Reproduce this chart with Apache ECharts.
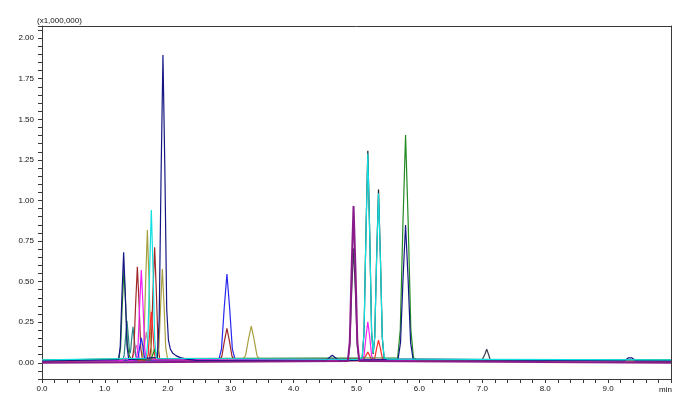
<!DOCTYPE html>
<html>
<head>
<meta charset="utf-8">
<script src="https://cdn.jsdelivr.net/npm/echarts@6/dist/echarts.min.js"></script>
<style>html,body{margin:0;padding:0;background:#fff}#c{width:690px;height:406px}</style>
</head>
<body>
<div id="c"></div>
<script>
// ---- axis ticks (minutes / x1,000,000 counts) ----
const xMin = 0, xMax = 10, xStep = 0.2;
const yMin = -0.1, yMax = 2.075, yStep = 0.05;
const yUnitLabel = '(x1,000,000)';
const xUnitLabel = 'min';

// ---- chromatogram traces: [time (min), intensity (x1,000,000)] ----
const navy = [[0,0.012],[1.217,0.019],[1.244,0.102],[1.271,0.418],[1.298,0.681],[1.325,0.418],[1.352,0.102],[1.379,0.019],
  [1.833,0.033],[1.863,0.266],[1.893,1.156],[1.923,1.897],[1.953,1.20],[1.983,0.33],[2.01,0.14],[2.04,0.085],[2.08,0.058],[2.13,0.044],[2.2,0.032],[2.3,0.022],[2.45,0.015],
  [4.48,0.012],[4.525,0.017],[4.57,0.033],[4.615,0.046],[4.66,0.033],[4.705,0.017],[4.75,0.012],
  [5.66,0.021],[5.70,0.125],[5.74,0.520],[5.78,0.849],[5.82,0.520],[5.86,0.125],[5.90,0.021],
  [9.26,0.012],[9.29,0.020],[9.32,0.030],[9.35,0.033],[9.38,0.030],[9.41,0.020],[9.44,0.012],[10,0.012]];
const green = [[0,0.016],[1.222,0.022],[1.249,0.092],[1.276,0.356],[1.303,0.576],[1.33,0.356],[1.357,0.11],[1.39,0.04],[1.43,0.022],
  [1.725,0.017],[1.747,0.025],[1.769,0.057],[1.791,0.084],[1.813,0.057],[1.835,0.025],[1.857,0.017],
  [5.654,0.031],[5.696,0.203],[5.738,0.858],[5.78,1.404],[5.822,0.858],[5.864,0.203],[5.906,0.031],[5.96,0.017],[10,0.016]];
const teal = [[0,0.015],[1.285,0.018],[1.307,0.048],[1.329,0.163],[1.351,0.259],[1.373,0.163],[1.39,0.074],[1.40,0.058],
  [1.41,0.076],[1.424,0.141],[1.446,0.222],[1.468,0.141],[1.49,0.043],[1.512,0.017],[10,0.015]];
const brown = [[0,0.014],[1.435,0.020],[1.462,0.092],[1.489,0.365],[1.516,0.592],[1.543,0.365],[1.57,0.092],[1.597,0.020],
  [1.71,0.022],[1.737,0.108],[1.764,0.437],[1.791,0.711],[1.818,0.437],[1.845,0.108],[1.872,0.022],
  [2.82,0.016],[2.86,0.041],[2.90,0.134],[2.94,0.212],[2.98,0.134],[3.02,0.041],[3.06,0.016],[10,0.014]];
const magenta = [[0,0.013],[1.28,0.013],[1.31,0.024],[1.33,0.03],[1.35,0.024],[1.38,0.013],
  [1.498,0.019],[1.525,0.088],[1.552,0.352],[1.579,0.571],[1.606,0.352],[1.633,0.088],[1.66,0.019],
  [5.09,0.016],[5.12,0.045],[5.15,0.159],[5.18,0.253],[5.21,0.159],[5.24,0.045],[5.27,0.016],[10,0.013]];
const pink = [[0,0.015],[1.425,0.016],[1.45,0.028],[1.475,0.072],[1.50,0.109],[1.525,0.072],[1.55,0.028],[1.575,0.016],[10,0.015]];
const rosy = [[0,0.015],[1.584,0.017],[1.609,0.039],[1.634,0.121],[1.659,0.19],[1.684,0.121],[1.709,0.039],[1.734,0.017],[10,0.015]];
const olive = [[0,0.017],[1.594,0.026],[1.621,0.125],[1.648,0.503],[1.675,0.818],[1.702,0.503],[1.729,0.125],[1.756,0.026],
  [1.832,0.023],[1.859,0.093],[1.886,0.358],[1.913,0.578],[1.94,0.358],[1.967,0.093],[1.994,0.028],[2.03,0.02],
  [3.192,0.019],[3.237,0.045],[3.282,0.144],[3.327,0.226],[3.372,0.144],[3.417,0.045],[3.462,0.019],[10,0.017]];
const black = [[0,0.012],[5.09,0.026],[5.12,0.187],[5.15,0.798],[5.18,1.307],[5.21,0.798],[5.24,0.19],[5.265,0.055],
  [5.29,0.157],[5.32,0.653],[5.35,1.068],[5.38,0.653],[5.41,0.155],[5.44,0.024],[10,0.012]];
const cyan = [[0,0.018],[1.657,0.028],[1.684,0.143],[1.711,0.578],[1.738,0.941],[1.765,0.578],[1.792,0.143],[1.819,0.028],
  [5.02,0.02],[5.09,0.032],[5.12,0.190],[5.15,0.790],[5.18,1.29],[5.21,0.790],[5.24,0.195],[5.265,0.06],
  [5.29,0.16],[5.32,0.641],[5.35,1.045],[5.38,0.641],[5.41,0.157],[5.44,0.03],[5.5,0.022],[10,0.018]];
const blue = [[0,0.014],[1.504,0.016],[1.529,0.033],[1.554,0.099],[1.579,0.154],[1.604,0.099],[1.629,0.033],[1.654,0.016],
  [2.811,0.020],[2.854,0.086],[2.897,0.338],[2.94,0.547],[2.983,0.338],[3.026,0.086],[3.069,0.020],[10,0.014]];
const purple = [[0,0.0],[4.863,0.011],[4.893,0.130],[4.923,0.586],[4.953,0.966],[4.983,0.586],[5.013,0.130],[5.043,0.011],[5.07,0.0],[10,0.0]];
const slate = [[0,0.01],[4.863,0.018],[4.893,0.104],[4.923,0.432],[4.953,0.705],[4.983,0.432],[5.013,0.104],[5.043,0.018],
  [6.989,0.011],[7.016,0.020],[7.043,0.054],[7.07,0.083],[7.097,0.054],[7.124,0.020],[7.151,0.011],[10,0.01]];
const red = [[0,0.011],[1.663,0.014],[1.688,0.052],[1.713,0.195],[1.738,0.314],[1.763,0.195],[1.788,0.052],[1.813,0.014],
  [5.09,0.012],[5.12,0.018],[5.15,0.044],[5.18,0.066],[5.21,0.044],[5.24,0.018],[5.26,0.014],
  [5.29,0.028],[5.32,0.089],[5.35,0.14],[5.38,0.089],[5.41,0.028],[5.44,0.012],[10,0.011]];

const traces = [
  {name:'black', data:black, color:'#1a1a1a', w:1.2},
  {name:'slate', data:slate, color:'#3c3c50', w:1.2},
  {name:'rosy', data:rosy, color:'#c09090', w:1.2},
  {name:'pink', data:pink, color:'#ff60c0', w:1.2},
  {name:'teal', data:teal, color:'#2a8585', w:1.2},
  {name:'brown', data:brown, color:'#a02828', w:1.2},
  {name:'olive', data:olive, color:'#a8a040', w:1.2},
  {name:'red', data:red, color:'#ff2a2a', w:1.2},
  {name:'blue', data:blue, color:'#2828f0', w:1.2},
  {name:'magenta', data:magenta, color:'#f020f0', w:1.2},
  {name:'green', data:green, color:'#228b22', w:1.2},
  {name:'navy', data:navy, color:'#161684', w:1.2},
  {name:'cyan', data:cyan, color:'#10e0e0', w:1.2},
  {name:'purple', data:purple, color:'#8a1c8a', w:2}
];

const font = 'Liberation Sans, Arial, sans-serif';
const axisCol = '#3a3a3a';
const near = (a, b) => Math.abs(a - b) < 1e-6;

const chart = echarts.init(document.getElementById('c'), null, {renderer:'canvas'});
chart.setOption({
  animation: false,
  backgroundColor: '#fff',
  grid: {left: 42, right: 19, top: 26, bottom: 27},
  xAxis: [{
    type: 'value', min: xMin, max: xMax, interval: xStep,
    axisLine: {show: true, onZero: false, lineStyle: {color: axisCol, width: 1}},
    axisTick: {show: true, inside: false, length: 4, lineStyle: {color: axisCol}},
    splitLine: {show: false},
    axisLabel: {
      margin: 6, fontSize: 8, fontFamily: font, color: '#111',
      formatter: v => { const r = Math.round(v); return (near(v, r) && r < xMax) ? r.toFixed(1) : ''; }
    }
  }, {
    type: 'value', position: 'top', min: xMin, max: xMax,
    axisLine: {show: true, onZero: false, lineStyle: {color: axisCol, width: 1}},
    axisTick: {show: false}, axisLabel: {show: false}, splitLine: {show: false}
  }],
  yAxis: [{
    type: 'value', min: yMin, max: yMax, interval: yStep,
    axisLine: {show: true, onZero: false, lineStyle: {color: axisCol, width: 1}},
    axisTick: {show: true, inside: false, length: 4, lineStyle: {color: axisCol}},
    splitLine: {show: false},
    axisLabel: {
      margin: 8, fontSize: 8, fontFamily: font, color: '#111',
      formatter: v => { const q = v / 0.25; return (v > -1e-9 && near(q, Math.round(q))) ? Math.abs(v).toFixed(2) : ''; }
    }
  }, {
    type: 'value', position: 'right', min: yMin, max: yMax,
    axisLine: {show: true, onZero: false, lineStyle: {color: axisCol, width: 1}},
    axisTick: {show: false}, axisLabel: {show: false}, splitLine: {show: false}
  }],
  graphic: [
    {type: 'text', left: 37, top: 17, style: {text: yUnitLabel, font: '8px ' + font, fill: '#111'}},
    {type: 'text', right: 18, top: 386, style: {text: xUnitLabel, font: '8px ' + font, fill: '#111'}}
  ],
  series: traces.map(t => ({
    type: 'line', name: t.name, data: t.data, xAxisIndex: 0, yAxisIndex: 0,
    showSymbol: false, symbol: 'none', smooth: false,
    lineStyle: {color: t.color, width: t.w}, emphasis: {disabled: true}
  }))
});
</script>
</body>
</html>
